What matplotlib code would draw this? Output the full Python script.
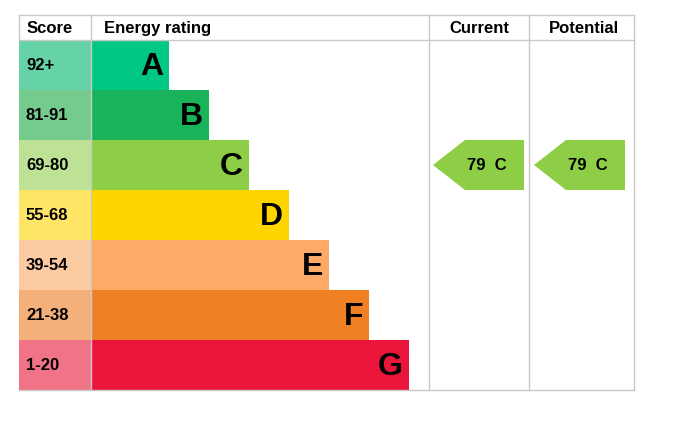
import matplotlib
matplotlib.use("Agg")
import matplotlib.pyplot as plt
from matplotlib.patches import Polygon

scores = ["92+", "81-91", "69-80", "55-68", "39-54", "21-38", "1-20"]
letters = ["A", "B", "C", "D", "E", "F", "G"]
bar_ends = [169, 209, 249, 289, 329, 369, 409]
colors = ["#00c781", "#19b459", "#8dce46", "#ffd500", "#fcaa65", "#ef8023", "#e9153b"]
score_colors = ["#66d3a6", "#75cb8d", "#bde295", "#ffe566", "#fdcba2", "#f4b07a", "#f07388"]
current = (79, "C", 2)
potential = (79, "C", 2)

fig = plt.figure(figsize=(6.81, 4.28), dpi=100)
ax = fig.add_axes([0, 0, 1, 1])
ax.set_xlim(0, 681); ax.set_ylim(428, 0); ax.axis("off")
font = "Liberation Sans"
gc = "#c8c8c8"

top, head, rh, left, sc = 15, 40, 50, 19, 91
for i, (s, l, e, c, scc) in enumerate(zip(scores, letters, bar_ends, colors, score_colors)):
    y0 = head + i * rh
    ax.barh(y0 + rh / 2, sc - left, left=left, height=rh, color=scc, linewidth=0)
    ax.barh(y0 + rh / 2, e - sc, left=sc, height=rh, color=c, linewidth=0)
    ax.text(26, y0 + rh / 2, s, fontsize=12, fontweight="bold", family=font, va="center", ha="left")
    ax.text(e - 6, y0 + rh / 2 + 2, l, fontsize=23, fontweight="bold", family=font, va="center", ha="right")

bottom = head + 7 * rh
ax.plot([left, 634], [top, top], color=gc, lw=1)
ax.plot([left, 634], [head, head], color=gc, lw=1)
ax.plot([left, 634], [bottom, bottom], color=gc, lw=1)
for x in [sc, 429, 529, 634]:
    ax.plot([x, x], [top, bottom], color=gc, lw=1)
ax.plot([left, left], [top, head], color=gc, lw=1)

ax.text(27, 28, "Score", fontsize=12, fontweight="bold", family=font, va="center")
ax.text(104, 28, "Energy rating", fontsize=12, fontweight="bold", family=font, va="center")
ax.text(479, 28, "Current", fontsize=12, fontweight="bold", family=font, va="center", ha="center")
ax.text(584, 28, "Potential", fontsize=12, fontweight="bold", family=font, va="center", ha="center")

for (val, let, row), x0 in [(current, 433), (potential, 534)]:
    y0 = head + row * rh
    x1 = x0 + 91
    poly = Polygon([(x0, y0 + rh / 2), (x0 + 32, y0), (x1, y0), (x1, y0 + rh), (x0 + 32, y0 + rh)],
                   closed=True, color=colors[row], lw=0)
    ax.add_patch(poly)
    ax.text(x0 + 54, y0 + rh / 2, f"{val}  {let}", fontsize=12, fontweight="bold", family=font,
            va="center", ha="center")

fig.savefig("out.png", dpi=100)
